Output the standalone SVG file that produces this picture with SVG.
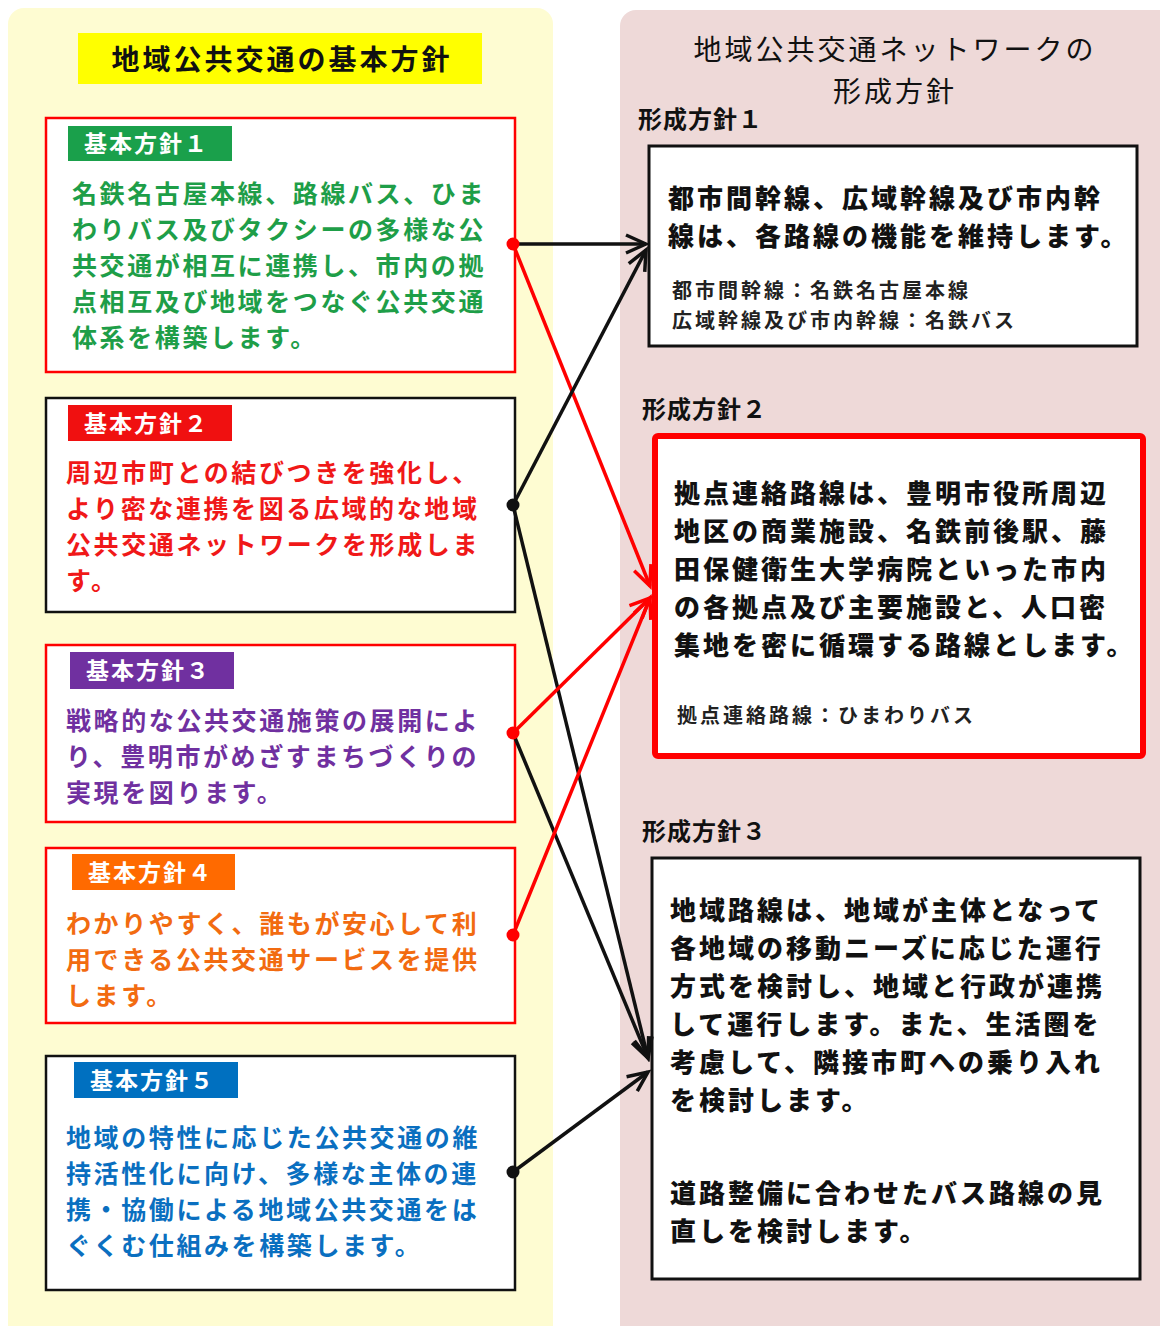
<svg xmlns="http://www.w3.org/2000/svg" width="1160" height="1326" viewBox="0 0 1160 1326">
<style>
text{font-family:"Noto Sans CJK JP","Noto Sans CJK SC",sans-serif;}
.title{font-size:28px;letter-spacing:3px;fill:#111;}
.tag{font-size:23px;font-weight:700;fill:#fff;letter-spacing:2px;}
.body{font-size:25px;font-weight:700;letter-spacing:2.6px;}
.rb{font-size:26px;font-weight:900;letter-spacing:3px;fill:#111;}
.rs{font-size:20px;font-weight:700;letter-spacing:3px;fill:#222;}
.lbl{font-size:24px;font-weight:700;letter-spacing:1px;fill:#111;}
.lbox{fill:#fff;stroke-width:2.5;}
.bl{stroke:#111;stroke-width:3.5;fill:none;}
.rd{stroke:#f00;stroke-width:3.5;fill:none;}
</style>
<defs>
<marker id="aB" viewBox="-24 -12 28 24" markerWidth="28" markerHeight="24" refX="0" refY="0" orient="auto" markerUnits="userSpaceOnUse">
<path d="M-20,-9 L0,0 L-20,9" fill="none" stroke="#111" stroke-width="3.5"/>
</marker>
<marker id="aR" viewBox="-24 -12 28 24" markerWidth="28" markerHeight="24" refX="0" refY="0" orient="auto" markerUnits="userSpaceOnUse">
<path d="M-20,-9 L0,0 L-20,9" fill="none" stroke="#f00" stroke-width="3.5"/>
</marker>
</defs>
<rect x="0" y="0" width="1160" height="1326" fill="#fff"/>
<rect x="8" y="8" width="545" height="1340" rx="16" fill="#FEFCD2"/>
<rect x="620" y="10" width="560" height="1340" rx="16" fill="#EED9D8"/>

<g id="left-title">
<rect x="78" y="33" width="404" height="51" fill="#FFFF00"/>
<text class="title" x="282" y="70" text-anchor="middle" font-weight="700">地域公共交通の基本方針</text>
</g>

<g id="kihon1">
<rect class="lbox" x="46" y="118" width="469" height="254" stroke="#f00"/>
<rect x="68" y="126" width="164" height="35" fill="#1AA04B"/>
<text class="tag" x="84" y="152">基本方針１</text>
<g class="body" fill="#1E9E48">
<text x="72" y="203">名鉄名古屋本線、路線バス、ひま</text>
<text x="72" y="239">わりバス及びタクシーの多様な公</text>
<text x="72" y="275">共交通が相互に連携し、市内の拠</text>
<text x="72" y="311">点相互及び地域をつなぐ公共交通</text>
<text x="72" y="347">体系を構築します。</text>
</g>
</g>

<g id="kihon2">
<rect class="lbox" x="46" y="398" width="469" height="214" stroke="#111"/>
<rect x="68" y="405" width="164" height="36" fill="#F01010"/>
<text class="tag" x="84" y="432">基本方針２</text>
<g class="body" fill="#F01818">
<text x="66" y="482">周辺市町との結びつきを強化し、</text>
<text x="66" y="518">より密な連携を図る広域的な地域</text>
<text x="66" y="554">公共交通ネットワークを形成しま</text>
<text x="66" y="590">す。</text>
</g>
</g>

<g id="kihon3">
<rect class="lbox" x="46" y="645" width="469" height="177" stroke="#f00"/>
<rect x="70" y="652" width="164" height="37" fill="#7030A0"/>
<text class="tag" x="86" y="679">基本方針３</text>
<g class="body" fill="#7030A0">
<text x="66" y="730">戦略的な公共交通施策の展開によ</text>
<text x="66" y="766">り、豊明市がめざすまちづくりの</text>
<text x="66" y="802">実現を図ります。</text>
</g>
</g>

<g id="kihon4">
<rect class="lbox" x="46" y="848" width="469" height="175" stroke="#f00"/>
<rect x="72" y="854" width="163" height="36" fill="#FF6A00"/>
<text class="tag" x="88" y="881">基本方針４</text>
<g class="body" fill="#F26B10">
<text x="66" y="933">わかりやすく、誰もが安心して利</text>
<text x="66" y="969">用できる公共交通サービスを提供</text>
<text x="66" y="1005">します。</text>
</g>
</g>

<g id="kihon5">
<rect class="lbox" x="46" y="1056" width="469" height="234" stroke="#111"/>
<rect x="74" y="1062" width="164" height="36" fill="#0070C0"/>
<text class="tag" x="90" y="1089">基本方針５</text>
<g class="body" fill="#0A6FC0">
<text x="66" y="1147">地域の特性に応じた公共交通の維</text>
<text x="66" y="1183">持活性化に向け、多様な主体の連</text>
<text x="66" y="1219">携・協働による地域公共交通をは</text>
<text x="66" y="1255">ぐくむ仕組みを構築します。</text>
</g>
</g>

<g id="right-title">
<text class="title" x="895" y="60" text-anchor="middle">地域公共交通ネットワークの</text>
<text class="title" x="895" y="102" text-anchor="middle">形成方針</text>
</g>

<g id="keisei1">
<text class="lbl" x="638" y="128">形成方針１</text>
<rect x="649" y="146" width="488" height="200" fill="#fff" stroke="#111" stroke-width="3"/>
<text class="rb" x="668" y="208">都市間幹線、広域幹線及び市内幹</text>
<text class="rb" x="668" y="246">線は、各路線の機能を維持します。</text>
<text class="rs" x="672" y="298">都市間幹線：名鉄名古屋本線</text>
<text class="rs" x="672" y="328">広域幹線及び市内幹線：名鉄バス</text>
</g>

<g id="keisei2">
<text class="lbl" x="642" y="418">形成方針２</text>
<rect x="655" y="436" width="488" height="320" rx="3" fill="#fff" stroke="#f00" stroke-width="6"/>
<text class="rb" x="674" y="503">拠点連絡路線は、豊明市役所周辺</text>
<text class="rb" x="674" y="541">地区の商業施設、名鉄前後駅、藤</text>
<text class="rb" x="674" y="579">田保健衛生大学病院といった市内</text>
<text class="rb" x="674" y="617">の各拠点及び主要施設と、人口密</text>
<text class="rb" x="674" y="655">集地を密に循環する路線とします。</text>
<text class="rs" x="677" y="723">拠点連絡路線：ひまわりバス</text>
</g>

<g id="keisei3">
<text class="lbl" x="642" y="840">形成方針３</text>
<rect x="652" y="858" width="488" height="421" fill="#fff" stroke="#111" stroke-width="3"/>
<text class="rb" x="670" y="920">地域路線は、地域が主体となって</text>
<text class="rb" x="670" y="958">各地域の移動ニーズに応じた運行</text>
<text class="rb" x="670" y="996">方式を検討し、地域と行政が連携</text>
<text class="rb" x="670" y="1034">して運行します。また、生活圏を</text>
<text class="rb" x="670" y="1072">考慮して、隣接市町への乗り入れ</text>
<text class="rb" x="670" y="1110">を検討します。</text>
<text class="rb" x="670" y="1203">道路整備に合わせたバス路線の見</text>
<text class="rb" x="670" y="1241">直しを検討します。</text>
</g>

<g id="connectors">
<line class="bl" x1="513" y1="244" x2="646" y2="244" marker-end="url(#aB)"/>
<line class="rd" x1="513" y1="244" x2="650" y2="586" marker-end="url(#aR)"/>
<line class="bl" x1="513" y1="505" x2="646" y2="250" marker-end="url(#aB)"/>
<line class="bl" x1="513" y1="505" x2="648" y2="1058" marker-end="url(#aB)"/>
<line class="rd" x1="513" y1="733" x2="650" y2="598" marker-end="url(#aR)"/>
<line class="bl" x1="513" y1="733" x2="648" y2="1058" marker-end="url(#aB)"/>
<line class="rd" x1="513" y1="935" x2="650" y2="598" marker-end="url(#aR)"/>
<line class="bl" x1="513" y1="1172" x2="648" y2="1072" marker-end="url(#aB)"/>
<circle cx="513" cy="244" r="6.5" fill="#f00"/>
<circle cx="513" cy="505" r="6.5" fill="#111"/>
<circle cx="513" cy="733" r="6.5" fill="#f00"/>
<circle cx="513" cy="935" r="6.5" fill="#f00"/>
<circle cx="513" cy="1172" r="6.5" fill="#111"/>
</g>
</svg>
